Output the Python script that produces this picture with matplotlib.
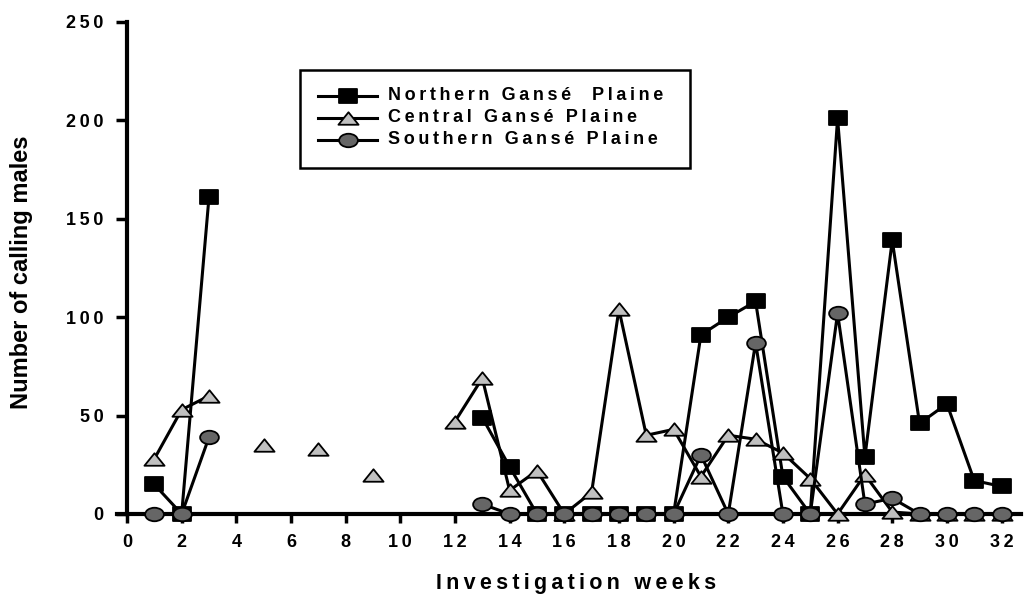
import matplotlib
matplotlib.use("Agg")
import matplotlib.pyplot as plt
import numpy as np
from matplotlib.path import Path
from matplotlib.lines import Line2D
from matplotlib.patches import Rectangle

plt.rcParams['font.family'] = ['Liberation Sans', 'DejaVu Sans']
plt.rcParams['font.weight'] = 'bold'

# Weekly counts of calling males (None = no survey that week)
weeks = list(range(1, 33))
northern = [15, 0, 161, None, None, None, None, None, None, None, None, None,
            49, 24, 0, 0, 0, 0, 0, 0, 91, 100, 108, 19, 0, 201, 29, 139, 46, 56, 17, 14]
central = [28, 53, 60, None, 35, None, 33, None, 20, None, None, 47,
           69, 12, 22, 0, 11, 104, 40, 43, 19, 40, 38, 31, 18, 0, 20, 1, 0, 0, 0, 0]
southern = [0, 0, 39, None, None, None, None, None, None, None, None, None,
            5, 0, 0, 0, 0, 0, 0, 0, 30, 0, 87, 0, 0, 102, 5, 8, 0, 0, 0, 0]

series_names = ["Northern Gansé  Plaine", "Central Gansé Plaine", "Southern Gansé Plaine"]
x_ticks = list(range(0, 33, 2))
y_ticks = list(range(0, 251, 50))


def spaced(s, sep='\u2009'):
    """Letter-spaced text."""
    return sep.join(s)


def to_array(vals):
    return np.array([np.nan if v is None else v for v in vals], dtype=float)


# Slightly flattened marker shapes
sq_path = Path([(-1, -0.78), (1, -0.78), (1, 0.78), (-1, 0.78), (-1, -0.78)],
               [Path.MOVETO, Path.LINETO, Path.LINETO, Path.LINETO, Path.CLOSEPOLY])
tri_path = Path([(-1, -0.62), (1, -0.62), (0, 0.62), (-1, -0.62)],
                [Path.MOVETO, Path.LINETO, Path.LINETO, Path.CLOSEPOLY])
circ = Path.unit_circle()
ell_path = Path(circ.vertices * np.array([1.0, 0.72]), circ.codes)

W, H = 1024, 597
fig = plt.figure(figsize=(W / 100, H / 100), dpi=100)


def fx(px):
    return px / W


def fy(py):
    return 1 - py / H


x0_px, unit_px = 127.0, 27.33
xmin, xmax = -0.35, 32.7
left_px = x0_px + xmin * unit_px
right_px = x0_px + xmax * unit_px
bottom_px, top_px = 514.0, 22.0
ax = fig.add_axes([fx(left_px), fy(bottom_px),
                   (right_px - left_px) / W, (bottom_px - top_px) / H])

line_kw = dict(color='black', linewidth=2.2, markeredgecolor='black',
               markeredgewidth=1.3)
styles = [
    dict(marker=sq_path, markersize=13.5, markerfacecolor='black'),
    dict(marker=tri_path, markersize=14.5, markerfacecolor='#c0c0c0'),
    dict(marker=ell_path, markersize=13.5, markerfacecolor='#666666'),
]
for i, (vals, st) in enumerate(zip([northern, central, southern], styles)):
    ax.plot(weeks, to_array(vals), clip_on=False, zorder=3 + i, **line_kw, **st)

ax.set_xlim(xmin, xmax)
ax.set_ylim(0, 250)
ax.set_xticks(x_ticks)
ax.set_xticklabels([spaced(str(t)) for t in x_ticks])
ax.set_yticks(y_ticks)
ax.set_yticklabels([spaced(str(t)) for t in y_ticks])

for s in ['top', 'right']:
    ax.spines[s].set_visible(False)
ax.spines['left'].set_position(('data', 0))
ax.spines['left'].set_linewidth(3.0)
ax.spines['bottom'].set_linewidth(3.0)
ax.spines['left'].set_zorder(1)
ax.spines['bottom'].set_zorder(1)

ax.tick_params(axis='both', direction='out', width=2.5, labelsize=13,
               color='black')
ax.tick_params(axis='y', length=8, pad=9)
ax.tick_params(axis='x', length=6.5, pad=8)
for lab in ax.get_xticklabels() + ax.get_yticklabels():
    lab.set_fontweight('bold')

ax.set_ylabel("Number of calling males", fontsize=17, fontweight='bold')
ax.yaxis.set_label_coords(fx(22), fy(272), transform=fig.transFigure)
ax.yaxis.label.set_va('center')
ax.yaxis.label.set_ha('center')
ax.set_xlabel(spaced("Investigation weeks"), fontsize=15.5, fontweight='bold')
ax.xaxis.set_label_coords(fx(576), fy(584), transform=fig.transFigure)
ax.xaxis.label.set_va('center')

# Legend box with one sample line and marker per series
fig.add_artist(Rectangle((fx(300), fy(168)), fx(690) - fx(300), fy(70) - fy(168),
                         transform=fig.transFigure, facecolor='white',
                         edgecolor='black', linewidth=1.8, zorder=10))
row_y = [96, 118, 140]
for name, st, y in zip(series_names, styles, row_y):
    fig.add_artist(Line2D([fx(318), fx(377)], [fy(y), fy(y)],
                          transform=fig.transFigure, color='black',
                          linewidth=2.2, zorder=11))
    fig.add_artist(Line2D([fx(347.5)], [fy(y)], transform=fig.transFigure,
                          linestyle='none', zorder=12,
                          markeredgecolor='black', markeredgewidth=1.3, **st))
    fig.text(fx(388), fy(y), spaced(name), fontsize=13, fontweight='bold',
             ha='left', va='center', zorder=12)

fig.savefig("out.png", dpi=100)
